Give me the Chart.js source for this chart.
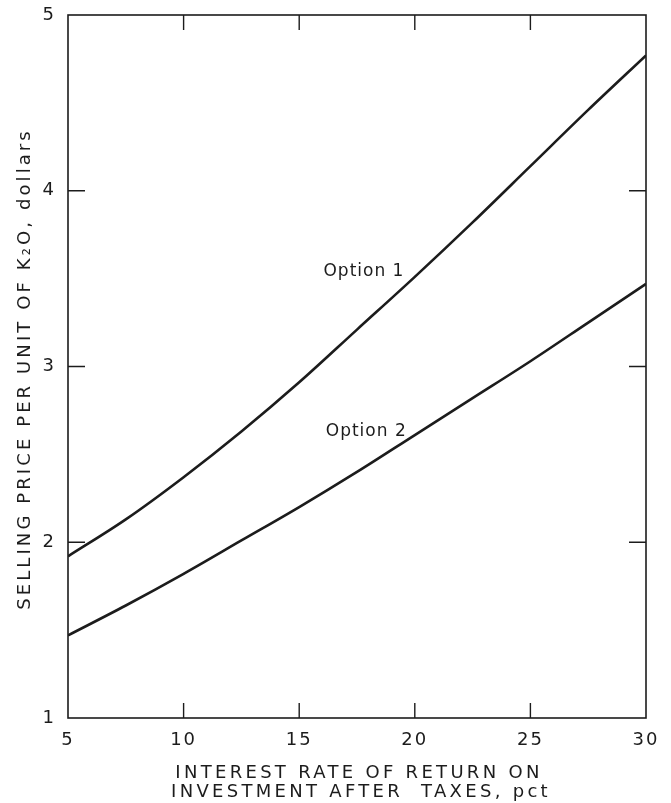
<!DOCTYPE html>
<html>
<head>
<meta charset="utf-8">
<script src="https://cdn.jsdelivr.net/npm/chart.js@4.4.1/dist/chart.umd.min.js"></script>
<style>
  html, body { margin: 0; padding: 0; background: #fff; }
  #wrap { width: 671px; height: 803px; position: relative; }
</style>
</head>
<body>
<div id="wrap"><canvas id="chart"></canvas></div>
<script>
// interest rate, pct
const rates = [5, 7.5, 10, 12.5, 15, 17.5, 20, 22.5, 25, 27.5, 30];
// selling price per unit of K2O, dollars
const option1 = [1.92, 2.13, 2.37, 2.63, 2.91, 3.21, 3.51, 3.82, 4.14, 4.46, 4.77];
const option2 = [1.47, 1.64, 1.82, 2.01, 2.20, 2.40, 2.61, 2.82, 3.03, 3.25, 3.47];
const xTicks = [5, 10, 15, 20, 25, 30];
const yTicks = [1, 2, 3, 4, 5];
const curveLabels = [
  { text: 'Option 1', x: 17.8, y: 3.54 },
  { text: 'Option 2', x: 17.9, y: 2.63 }
];

const ink = '#1c1c1c';
const fontFamily = "'DejaVu Sans', sans-serif";

const toPoints = (xs, ys) => xs.map((x, i) => ({ x, y: ys[i] }));

// frame, inward ticks, curve labels and axis titles
const framePlugin = {
  id: 'frame',
  beforeDraw(chart) {
    chart.ctx.letterSpacing = '2px';
  },
  afterDraw(chart) {
    const { ctx, chartArea: a, scales: { x, y } } = chart;
    ctx.save();
    ctx.strokeStyle = ink;
    ctx.lineWidth = 1.6;
    ctx.strokeRect(a.left, a.top, a.right - a.left, a.bottom - a.top);

    ctx.lineWidth = 1.4;
    ctx.beginPath();
    xTicks.slice(1, -1).forEach(v => {
      const px = x.getPixelForValue(v);
      ctx.moveTo(px, a.bottom); ctx.lineTo(px, a.bottom - 15);
      ctx.moveTo(px, a.top); ctx.lineTo(px, a.top + 15);
    });
    yTicks.slice(1, -1).forEach(v => {
      const py = y.getPixelForValue(v);
      ctx.moveTo(a.left, py); ctx.lineTo(a.left + 17, py);
      ctx.moveTo(a.right, py); ctx.lineTo(a.right - 17, py);
    });
    ctx.stroke();

    ctx.fillStyle = ink;
    ctx.letterSpacing = '1px';
    ctx.font = `17px ${fontFamily}`;
    ctx.textAlign = 'center';
    ctx.textBaseline = 'middle';
    curveLabels.forEach(l => {
      ctx.fillText(l.text, x.getPixelForValue(l.x), y.getPixelForValue(l.y));
    });

    ctx.letterSpacing = '3.3px';
    ctx.font = `18px ${fontFamily}`;
    ctx.fillText('INTEREST RATE OF RETURN ON', 359, 773);
    ctx.fillText('INVESTMENT AFTER  TAXES, pct', 361, 792);

    ctx.translate(25, 369);
    ctx.rotate(-Math.PI / 2);
    ctx.letterSpacing = '3.1px';
    ctx.fillText('SELLING PRICE PER UNIT OF K\u2082O, dollars', 0, 0);
    ctx.restore();
  }
};

new Chart(document.getElementById('chart'), {
  type: 'line',
  data: {
    datasets: [
      { label: 'Option 1', data: toPoints(rates, option1) },
      { label: 'Option 2', data: toPoints(rates, option2) }
    ]
  },
  options: {
    responsive: true,
    maintainAspectRatio: false,
    animation: false,
    layout: { padding: { top: 15, right: 25, left: 0, bottom: 0 } },
    elements: {
      line: { borderColor: ink, borderWidth: 2.6, cubicInterpolationMode: 'monotone', fill: false },
      point: { radius: 0 }
    },
    plugins: { legend: { display: false }, tooltip: { enabled: false } },
    scales: {
      x: {
        type: 'linear',
        min: 5,
        max: 30,
        afterFit: s => { s.height = 85; s.paddingLeft = 0; s.paddingRight = 0; },
        afterBuildTicks: s => { s.ticks = xTicks.map(v => ({ value: v })); },
        grid: { display: false, drawTicks: false },
        border: { display: false },
        ticks: { color: ink, padding: 12, font: { family: fontFamily, size: 18 } }
      },
      y: {
        min: 1,
        max: 5,
        afterFit: s => { s.width = 68; s.paddingTop = 0; s.paddingBottom = 0; },
        afterBuildTicks: s => { s.ticks = yTicks.map(v => ({ value: v })); },
        grid: { display: false, drawTicks: false },
        border: { display: false },
        ticks: { color: ink, padding: 12, font: { family: fontFamily, size: 18 } }
      }
    }
  },
  plugins: [framePlugin]
});
</script>
</body>
</html>
